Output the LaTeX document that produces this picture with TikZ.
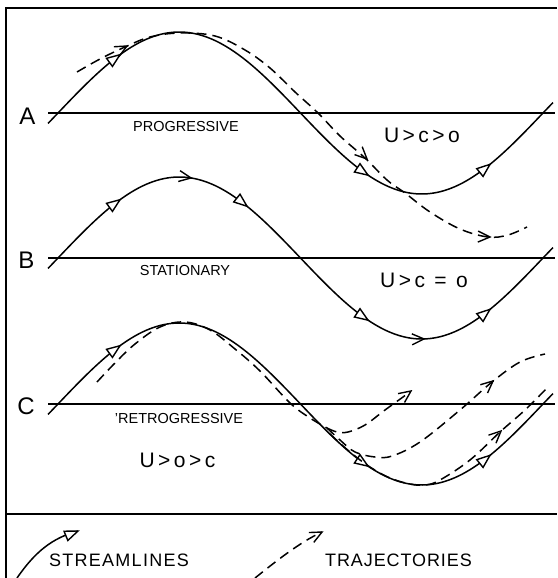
\documentclass[tikz,border=0pt]{standalone}
\usepackage{fontspec}
\setmainfont{Liberation Sans}
\begin{document}
\begin{tikzpicture}[x=1pt,y=-1pt,
  declare function={wv(\x,\y)=\y-81*sin(0.742268*(\x-58));
                    slp(\x)=atan(1.0494*cos(0.742268*(\x-58)));},
  frame/.style={line width=1.6pt},
  axisline/.style={line width=1.1pt},
  stream/.style={line width=1.5pt},
  traj/.style={line width=1.5pt, dash pattern=on 10pt off 6pt},
  tri/.pic={\draw[line width=1.4pt, fill=white, line join=miter] (0,0) -- (-13,5) -- (-13,-5) -- cycle;},
  chev/.pic={\draw[line width=1.4pt, line join=miter] (-12,5.5) -- (0,0) -- (-12,-5.5);},
  lettertext/.style={inner sep=0pt, font=\fontsize{24}{24}\selectfont},
  captext/.style={inner sep=0pt, font=\fontsize{14.5}{15}\selectfont},
  reltext/.style={inner sep=0pt, font=\fontsize{21}{21}\selectfont},
  legtext/.style={inner sep=0pt, font=\fontsize{18}{18}\selectfont\addfontfeature{LetterSpace=7}}]
\useasboundingbox (0,0) rectangle (557,578);
% frame
\draw[frame] (6,578) -- (6,8) -- (557,8);
\draw[frame] (6,514) -- (557,514);
% axes, streamlines, streamline arrows
\foreach \yy in {113,258,404}{
  \draw[axisline] (48,\yy) -- (555,\yy);
  \draw[stream] plot[domain=48:553, samples=140] (\x,{wv(\x,\yy)});
  \foreach \t in {120,368,490}
    \pic[rotate={slp(\t)}] at (\t,{wv(\t,\yy)}) {tri};
}
\pic[rotate={slp(247)}] at (247,{wv(247,258)}) {tri};
\pic[rotate={slp(191)}] at (191,{wv(191,258)}) {chev};
\pic[rotate={slp(424)}] at (424,{wv(424,258)}) {chev};
% labels
\node[lettertext] (la) at (27.5,116.5) {A};
\node[lettertext] (lb) at (26.5,260.5) {B};
\node[lettertext] (lc) at (26,406) {C};
\node[captext] (pa) at (186,127) {PROGRESSIVE};
\node[captext] (pb) at (185,270.5) {STATIONARY};
\node[captext] (pc) at (179,419) {'RETROGRESSIVE};
\node[reltext] (ra) at (422,135.5) {U\,>\,c\,>\,o};
\node[reltext] (rb) at (424,280) {U\,>\,c \,=\, o};
\node[reltext] (rc) at (177.5,460.5) {U\,>\,o\,>\,c};
% trajectories A
\draw[traj] plot[smooth, tension=0.6] coordinates {(77,72) (100,59) (125,47) (150,37) (180,33) (215,36) (245,50) (270,68) (295,92) (318,113) (340,136) (365,158) (387,180) (405,193) (430,212) (460,229) (488,237) (508,235) (527,227)};
\pic[rotate=28] at (127,46) {chev};
\pic[rotate=-44] at (367,159) {chev};
\pic[rotate=-2] at (490,237) {chev};
% trajectories C
\draw[traj] plot[smooth, tension=0.6] coordinates {(97,382) (115,363) (135,344) (160,327) (185,322) (210,330) (235,349) (260,371) (290,403) (310,418) (327,428)};
\draw[traj] plot[smooth, tension=0.6] coordinates {(327,428) (337,432) (348,432) (365,425) (385,410) (410,392)};
\draw[traj] plot[smooth, tension=0.6] coordinates {(327,428) (340,440) (355,452) (375,457) (392,456) (420,442) (460,410) (492,382) (520,362) (545,354)};
\draw[traj] plot[smooth, tension=0.6] coordinates {(330,434) (350,452) (370,467) (390,478) (410,484) (425,485) (440,480) (470,460) (500,432) (525,410) (547,388)};
\pic[rotate=36] at (411,391) {chev};
\pic[rotate=41] at (493,381) {chev};
\pic[rotate=43] at (501,431) {chev};
% legend
\coordinate (s0) at (17,578);
\coordinate (s1) at (78,531);
\draw[stream] (s0) .. controls (35,552) and (52,538) .. (s1);
\pic[rotate=22] at (s1) {tri};
\coordinate (t0) at (255,578);
\coordinate (t1) at (322,532);
\draw[traj] (t0) .. controls (275,562) and (300,542) .. (t1);
\pic[rotate=27] at (t1) {chev};
\node[legtext] (ls) at (119,560) {STREAMLINES};
\node[legtext,font=\fontsize{18}{18}\selectfont\addfontfeature{LetterSpace=5}] (lt) at (398.5,560) {TRAJECTORIES};
\end{tikzpicture}
\end{document}
